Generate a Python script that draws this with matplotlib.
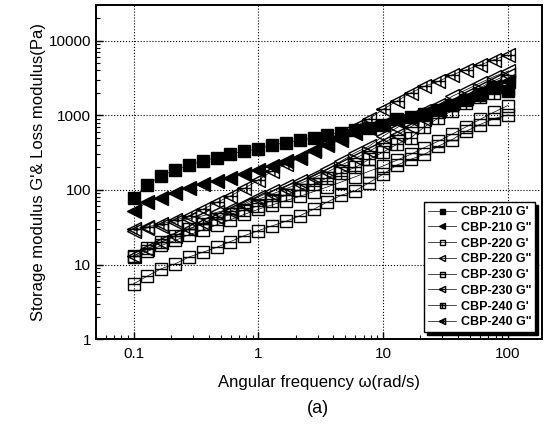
import matplotlib
matplotlib.use("Agg")
import matplotlib.pyplot as plt
from matplotlib.path import Path

plt.rcParams['font.family'] = ['Liberation Sans', 'DejaVu Sans']

# angular frequency (rad/s)
omega = [0.1, 0.129, 0.167, 0.215, 0.278, 0.359, 0.464, 0.599, 0.774, 1.0,
         1.29, 1.67, 2.15, 2.78, 3.59, 4.64, 5.99, 7.74, 10.0,
         12.9, 16.7, 21.5, 27.8, 35.9, 46.4, 59.9, 77.4, 100.0]

# moduli (Pa)
g210_p = [77, 118, 155, 185, 215, 245, 272, 305, 330, 357, 400, 430, 465, 500,
          550, 585, 630, 680, 750, 900, 960, 1030, 1180, 1380, 1600, 1880, 2300, 2100]
g210_pp = [53, 68, 79, 92, 106, 119, 132, 146, 162, 185, 209, 244, 275, 331,
           400, 474, 582, 676, 760, 850, 950, 1080, 1250, 1450, 1700, 2050, 2500, 2900]
g220_p = [12.5, 15, 18, 21, 25, 29, 34, 40, 47, 55, 63, 72, 82, 95,
          110, 128, 150, 178, 209, 250, 300, 370, 450, 560, 700, 880, 1100, 1350]
g220_pp = [28, 31, 33, 37, 41, 45, 50, 56, 65, 80, 97, 113, 132, 154,
           189, 244, 315, 386, 525, 680, 880, 1130, 1380, 1800, 2200, 2700, 3300, 3900]
g230_p = [5.5, 7, 8.8, 10.2, 12.6, 14.6, 17, 20.3, 24.4, 28.4, 33, 38, 45, 55,
          69, 85, 97, 125, 162, 215, 257, 300, 386, 474, 612, 751, 900, 1010]
g230_pp = [13, 16, 20, 24, 30, 36, 43, 52, 62, 75, 88, 104, 122, 145,
           175, 215, 265, 330, 420, 540, 700, 900, 1150, 1450, 1850, 2350, 2900, 3500]
g240_p = [13, 16.5, 20, 24, 30, 35, 41, 47, 54, 61, 72, 85, 100, 119,
          146, 170, 200, 257, 320, 407, 500, 700, 920, 1150, 1460, 1750, 2000, 2250]
g240_pp = [30, 32, 35, 39, 45, 55, 68, 83, 105, 135, 179, 220, 270, 348,
           428, 530, 700, 900, 1200, 1550, 2000, 2450, 2850, 3490, 4070, 4740, 5540, 6460]

labels = ["CBP-210 G'", 'CBP-210 G"', "CBP-220 G'", 'CBP-220 G"',
          "CBP-230 G'", 'CBP-230 G"', "CBP-240 G'", 'CBP-240 G"']


def marker_path(shape, extra):
    # outline + optional inner strokes
    if shape == 'sq':
        verts = [(-1, -1), (1, -1), (1, 1), (-1, 1), (-1, -1)]
    else:
        verts = [(-1, 0), (1, 1), (1, -1), (-1, 0), (-1, 0)]
    codes = [Path.MOVETO, Path.LINETO, Path.LINETO, Path.LINETO, Path.CLOSEPOLY]
    if extra in ('line', 'cross'):
        verts += [(-1, 0), (1, 0)]
        codes += [Path.MOVETO, Path.LINETO]
    if extra == 'cross':
        xc = 0.0 if shape == 'sq' else 0.35
        h = 1.0 if shape == 'sq' else 0.6
        verts += [(xc, -h), (xc, h)]
        codes += [Path.MOVETO, Path.LINETO]
    return Path(verts, codes)


series = [
    (g210_p, 's', 'k', 8.0),
    (g210_pp, '<', 'k', 9.5),
    (g220_p, 's', 'none', 8.0),
    (g220_pp, '<', 'none', 10.0),
    (g230_p, marker_path('sq', 'line'), 'none', 8.0),
    (g230_pp, marker_path('tri', 'line'), 'none', 10.0),
    (g240_p, marker_path('sq', 'cross'), 'none', 8.0),
    (g240_pp, marker_path('tri', 'cross'), 'none', 10.0),
]

fig = plt.figure(figsize=(5.47, 4.32), dpi=100)
ax = fig.add_axes([0.1755, 0.215, 0.8155, 0.773])

for (vals, mk, fc, ms), lab in zip(series, labels):
    ax.plot(omega, vals, color='k', lw=0.5, marker=mk, markersize=ms,
            markerfacecolor=fc, markeredgecolor='k', markeredgewidth=1.0, label=lab)

ax.set_xscale('log')
ax.set_yscale('log')
ax.set_xlim(0.05, 189)
ax.set_ylim(1, 30000)
ax.set_xticks([0.1, 1, 10, 100])
ax.set_xticklabels(['0.1', '1', '10', '100'])
ax.set_yticks([1, 10, 100, 1000, 10000])
ax.set_yticklabels(['1', '10', '100', '1000', '10000'])
ax.tick_params(which='both', direction='in', top=False, right=False, labelsize=11)
ax.tick_params(which='major', length=5, width=1)
ax.tick_params(which='minor', length=3, width=0.8)
ax.tick_params(axis='x', pad=6)
ax.grid(True, which='major', color='k', linestyle=':', linewidth=0.8)
for sp in ax.spines.values():
    sp.set_linewidth(1.4)

ax.set_xlabel('Angular frequency ω(rad/s)', fontsize=12, labelpad=10)
ax.set_ylabel("Storage modulus G'& Loss modulus(Pa)", fontsize=12, labelpad=2)

leg = ax.legend(loc='lower right', bbox_to_anchor=(0.984, 0.021), borderaxespad=0,
                prop={'weight': 'bold', 'size': 9}, markerscale=0.45,
                handlelength=2.2, handletextpad=0.4, labelspacing=0.3,
                borderpad=0.3, fancybox=False, framealpha=1,
                shadow={'color': 'black', 'alpha': 1})
leg.get_frame().set_edgecolor('k')
leg.get_frame().set_linewidth(1.0)

fig.text(0.582, 0.055, '(a)', fontsize=13, ha='center', va='center')

fig.savefig('out.png', dpi=100)
